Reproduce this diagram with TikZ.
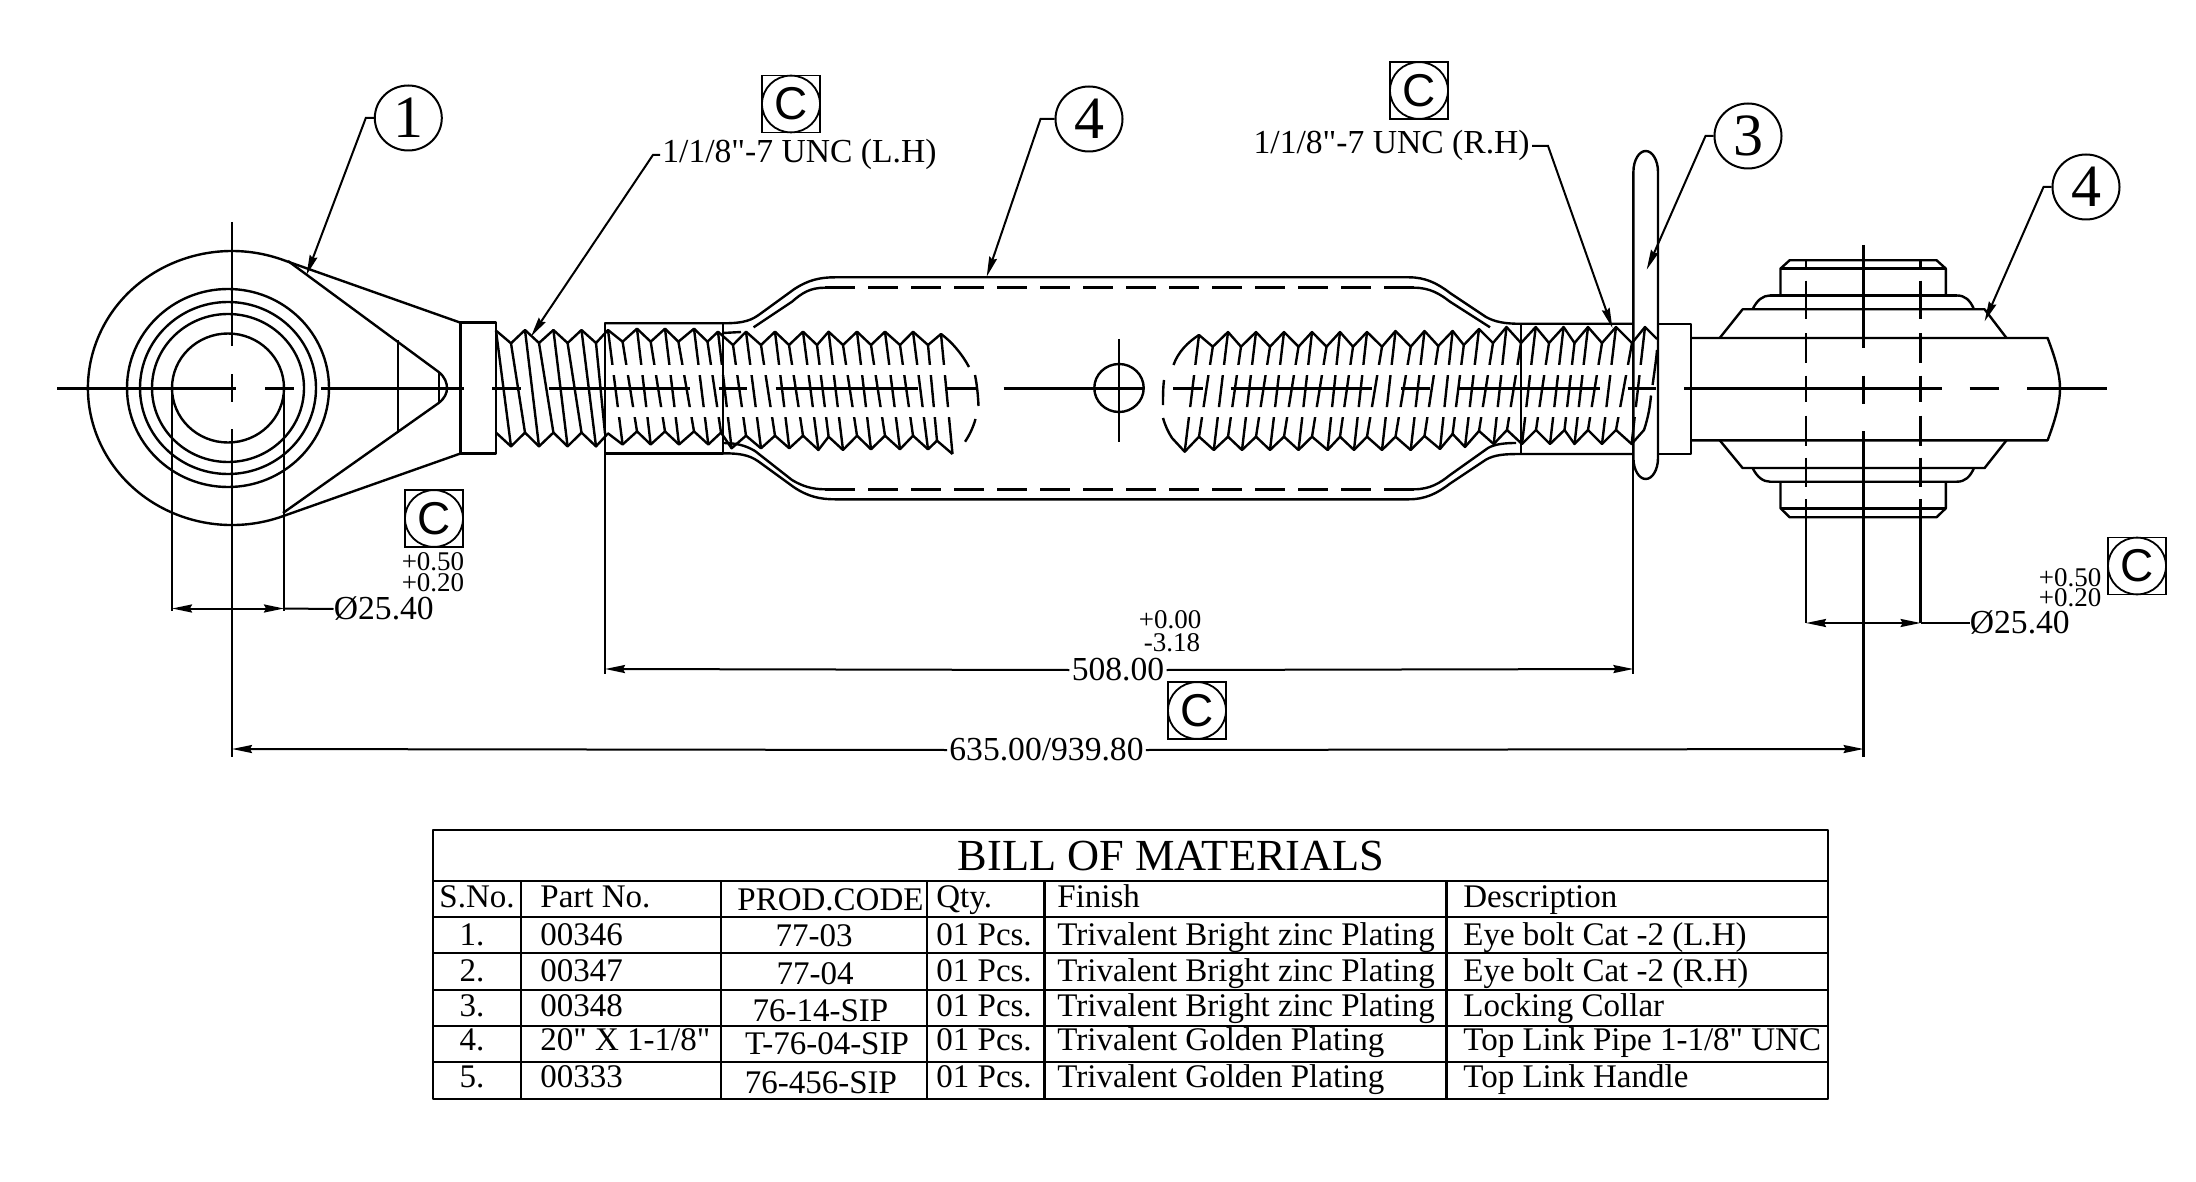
\documentclass[tikz,border=0pt]{standalone}
\usepackage{fontspec}
\setmainfont{Liberation Serif}[Ligatures=TeXOff]
\newfontfamily\csans{Liberation Sans}
\usetikzlibrary{arrows.meta,shapes.geometric}
\tikzset{
  thk/.style={line width=1.2pt,line join=round},
  thn/.style={line width=1pt,line join=miter},
  dimtip/.style={-{Stealth[length=10pt,width=4pt,inset=1pt]}},
  dimline/.style={thn,dimtip},
  balloon/.style={ellipse,draw,line width=1pt,inner sep=0pt,minimum width=33.5pt,minimum height=32.5pt,font=\fontsize{30}{30}\selectfont},
  label/.style={inner sep=1pt,font=\fontsize{16.8}{17}\selectfont},
  tol/.style={inner sep=0pt,font=\fontsize{13.5}{14}\selectfont},
  cbox/.style={draw,line width=.9pt,inner sep=0pt,minimum width=29pt,minimum height=28.5pt,font=\csans\fontsize{23}{23}\selectfont},
  cell/.style={anchor=base west,inner sep=0pt,font=\fontsize{16.5}{17}\selectfont},
  ccell/.style={anchor=base,inner sep=0pt,font=\fontsize{16.5}{17}\selectfont},
  hid/.style={thk,dash pattern=on 15pt off 6.5pt}
}
\newcommand{\cmark}[3]{%
  \node[cbox] (#1) at (#2,#3) {C};
  \draw[line width=.9pt] (#1.center) ellipse [x radius=14.5pt,y radius=14.2pt];}
\begin{document}
\begin{tikzpicture}[x=0.5pt,y=-0.5pt]
\fill[white] (0,0) rectangle (2196,1182);
\useasboundingbox (0,0) rectangle (2196,1182);

% ---- left eye bolt
\draw[thk] (460.5,322.7) -- (281.2,259.3) arc[start angle=-70,end angle=-290,x radius=144,y radius=137] -- (460.5,453.5);
\foreach \r/\s in {101/99,88/86,76/74,56/54.5}
  \draw[thk] (228,388) ellipse [x radius=\r,y radius=\s];
\draw[thk] (288,261) -- (438.7,372) .. controls (445,377) and (447,383) .. (447,388) .. controls (447,393) and (445,398) .. (438.7,403) -- (283,513);
\draw[thk] (398,340.5) -- (398,433.4);
\draw[thk] (438.7,372) -- (438.7,403);
\draw[thk] (460.5,322.7) rectangle (496,453.5);

% ---- left exposed thread
\draw[thk] (496,330.6) -- (511,343.3) -- (525,330) -- (539,343) -- (553.4,330) -- (567.6,343) -- (581.5,330) -- (596,343) -- (608,330) -- (622.6,341.7) -- (637,328.7) -- (650.7,341.7) -- (665,328.7) -- (678.4,341.7) -- (694,328.7) -- (707.5,341.7) -- (718,331.7) -- (733,345) -- (746,331.7) -- (761,345) -- (775,331.7) -- (789,345) -- (803,331.7) -- (817,345) -- (828.6,331.7) -- (843,345) -- (857,331.7) -- (871,345) -- (885,331.7) -- (900,345) -- (913,331.7) -- (928,345) -- (941,334) .. controls (952,342) and (962,354) .. (969,367);
\draw[thk] (496,432.6) -- (511,446.4) -- (525,432.6) -- (539,446.4) -- (553.4,432.6) -- (567.6,446.4) -- (581.5,432.6) -- (596,446.4) -- (608,433.4) -- (622.6,444.5) -- (637,431.4) -- (650.7,444.5) -- (665,431.4) -- (679,444.5) -- (694,431.4) -- (708.3,444.5) -- (721,432.6) -- (731.6,448.3) -- (746,435.7) -- (761,448.3) -- (775,435.7) -- (789.3,448.3) -- (803,435.7) -- (818.4,450) -- (828.6,436.7) -- (843,450) -- (857,435.7) -- (871,449.3) -- (885,435.7) -- (900,449.3) -- (913,435.7) -- (928,449.3) -- (937,440.7) -- (952.5,454);
\foreach \a/\b/\c/\d in {496/330.6/511/446.4,511/343.3/525/432.6,525/330/539/446.4,539/343/553.4/432.6,553.4/330/567.6/446.4,567.6/343/581.5/432.6,581.5/330/596/446.4,596/343/605/433.4}
  \draw[thk] (\a,\b) -- (\c,\d);
\begin{scope}
\clip (600,300) rectangle (1700,365) (600,375) rectangle (1700,407) (600,417) rectangle (1700,470);
\foreach \a/\b/\c/\d in {608/330/622.6/444.5,622.6/341.7/637/431.4,637/328.7/650.7/444.5,650.7/341.7/665/431.4,665/328.7/679/444.5,678.4/341.7/694/431.4,694/328.7/708.3/444.5,707.5/341.7/721/432.6,718/331.7/731.6/448.3,733/345/746/435.7,746/331.7/761/448.3,761/345/775/435.7,775/331.7/789.3/448.3,789/345/803/435.7,803/331.7/818.4/450,817/345/828.6/436.7,828.6/331.7/843/450,843/345/857/435.7,857/331.7/871/449.3,871/345/885/435.7,885/331.7/900/449.3,900/345/913/435.7,913/331.7/928/449.3,928/345/937/440.7,941/334/952.5/454}
  \draw[thk] (\a,\b) -- (\c,\d);
% right thread lines
\foreach \a/\b/\c/\d in {1199/335/1184.7/451.7,1212.8/346.7/1199/436.7,1228/332/1213.8/450,1241/346.7/1228/436.7,1256/332/1242/450,1270/346.7/1256/436.7,1284/332/1270/450,1298.5/346.7/1284/436.7,1312/332/1298.5/450,1326.5/346.7/1312/436.7,1340/332/1327.6/450,1353/346.7/1340/436.7,1367/332/1354/450,1382/346.7/1367/436.7,1395.5/331/1382/450,1410.7/346.7/1395.5/436.7,1424.5/331/1410.7/450,1438.3/346/1424.5/436,1452.6/331/1440/449,1463.8/345/1452.6/434,1479/329/1465/447,1493/343/1479/431,1506.5/327/1493.7/444,1521/343/1507/430,1535.7/327/1522/444,1549/343/1536/430,1563.6/327/1550/444,1574.5/343/1564.5/430,1588/327/1574.5/444,1602/343/1588/430,1616/327/1602/444,1632/343/1616/430,1645/327/1631.6/444}
  \draw[thk] (\a,\b) -- (\c,\d);
\end{scope}
% left thread end
\draw[thk] (975,375) .. controls (977,385) and (978,395) .. (978.5,406);
\draw[thk] (975.5,419) .. controls (973,428) and (969,436) .. (965,441.7);
% right thread outline
\draw[thk] (1173.5,365) .. controls (1178,352) and (1188,342) .. (1199,335) -- (1212.8,346.7) -- (1228,332) -- (1241,346.7) -- (1256,332) -- (1270,346.7) -- (1284,332) -- (1298.5,346.7) -- (1312,332) -- (1326.5,346.7) -- (1340,332) -- (1353,346.7) -- (1367,332) -- (1382,346.7) -- (1395.5,331) -- (1410.7,346.7) -- (1424.5,331) -- (1438.3,346) -- (1452.6,331) -- (1463.8,345) -- (1479,329) -- (1493,343) -- (1506.5,327) -- (1521,343) -- (1535.7,327) -- (1549,343) -- (1563.6,327) -- (1574.5,343) -- (1588,327) -- (1602,343) -- (1616,327) -- (1632,343) -- (1645,327) -- (1657,339);
\draw[thk] (1163,418) .. controls (1165,425) and (1168,432) .. (1172,438) -- (1184.7,451.7) -- (1199,436.7) -- (1213.8,450) -- (1228,436.7) -- (1242,450) -- (1256,436.7) -- (1270,450) -- (1284,436.7) -- (1298.5,450) -- (1312,436.7) -- (1327.6,450) -- (1340,436.7) -- (1354,450) -- (1367,436.7) -- (1382,450) -- (1395.5,436.7) -- (1410.7,450) -- (1424.5,436) -- (1440,449) -- (1452.6,434) -- (1465,447) -- (1479,431) -- (1493.7,444) -- (1507,430) -- (1522,444) -- (1536,430) -- (1550,444) -- (1564.5,430) -- (1574.5,444) -- (1588,430) -- (1602,444) -- (1616,430) -- (1631.6,444) -- (1644,430) .. controls (1648,418) and (1650,407) .. (1651,395.5);
\draw[thk] (1164,380) .. controls (1163,388) and (1163,396) .. (1163,405);
\draw[thk] (1657,350) .. controls (1656,362) and (1654,374) .. (1652.6,385);

% ---- pipe
\draw[thk] (605,323.3) rectangle (723,453.3);
\draw[thk] (605,323.3) -- (723,323.3) .. controls (745,323.3) and (752,320) .. (761,313.3) -- (794,289.3) .. controls (808,280) and (820,277.3) .. (835,277.3) -- (1409,277.3) .. controls (1425,277.3) and (1437,283) .. (1450,293) -- (1486,317) .. controls (1495,322) and (1505,323.8) .. (1521,323.8) -- (1633.4,323.8);
\draw[thk] (605,453.3) -- (723,453.3) .. controls (745,453.3) and (752,456.6) .. (761,463.3) -- (794,487.3) .. controls (808,496.6) and (820,499.3) .. (835,499.3) -- (1409,499.3) .. controls (1425,499.3) and (1437,493.6) .. (1450,483.6) -- (1486,459.6) .. controls (1495,454.6) and (1505,454) .. (1521,454) -- (1633.4,454);
\draw[thk] (1521,323.8) -- (1521,454);
% inner walls
\draw[thk] (723,333) -- (741,332);
\draw[thk] (753.6,327.3) -- (792,301.7) .. controls (802,293) and (810,287.7) .. (825,287.7);
\draw[hid] (825,287.7) -- (1414,287.7);
\draw[thk] (1414,287.7) .. controls (1430,287.7) and (1440,294) .. (1450,301.7) -- (1490,327.3);
\draw[thk] (723,443) .. controls (735,443) and (745,445) .. (755,451) -- (792,480) .. controls (802,486) and (812,489.3) .. (825,489.3);
\draw[hid] (825,489.3) -- (1414,489.3);
\draw[thk] (1414,489.3) .. controls (1430,489.3) and (1440,483) .. (1450,475) -- (1488,448) .. controls (1495,444) and (1505,443) .. (1516,443);
% tommy hole
\draw[thk] (1119,388) ellipse [x radius=24.7,y radius=24];
\draw[thk] (1119,339) -- (1119,441.7);

% ---- handle and right collar
\draw[thk] (1633.4,172) arc[start angle=180,end angle=360,x radius=12.3,y radius=21] -- (1658,458) arc[start angle=0,end angle=180,x radius=12.3,y radius=21] -- cycle;
\draw[thk] (1658,324) rectangle (1691,454);

% ---- right eye
\draw[thk] (1691,338) -- (2047.6,338) .. controls (2056,360) and (2060,375) .. (2060,388.6) .. controls (2060,402) and (2056,418) .. (2047.6,440.3) -- (1691,440.3);
\draw[thk] (1719.7,338) -- (1742.6,309.3) -- (1984.6,309.3) -- (2006.5,338);
\draw[thk] (1719.7,440.3) -- (1742.6,468) -- (1984.6,468) -- (2006.5,440.3);
\draw[thk] (1752.6,309.3) .. controls (1757,300) and (1763,295.5) .. (1770,295.5) -- (1780.5,295.5) -- (1780.5,268.6) -- (1789.6,260.3) -- (1936.6,260.3) -- (1945.8,268.6) -- (1945.8,295.5) -- (1957,295.5) .. controls (1965,295.5) and (1970,300) .. (1974,309.3);
\draw[thk] (1780.5,268.6) -- (1945.8,268.6);
\draw[thk] (1770,295.5) -- (1957,295.5);
\draw[thk] (1752.6,468) .. controls (1757,477) and (1763,481.7) .. (1770,481.7) -- (1957,481.7) .. controls (1965,481.7) and (1970,477) .. (1974,468);
\draw[thk] (1780.5,481.7) -- (1780.5,508.3) -- (1789.6,517.2) -- (1936.6,517.2) -- (1945.8,508.3) -- (1945.8,481.7);
\draw[thk] (1780.5,508.3) -- (1945.8,508.3);
\foreach \x in {1806,1920.6} {
  \foreach \a/\b in {260/270,280.7/318.6,333.4/362.8,375.5/402.4,415.5/445.5,457.6/487,499/623}
    \draw[thk] (\x,\a) -- (\x,\b);
}

% ---- centre lines
\foreach \a/\b in {57/236,265/294,321/464,492/521,549/690,719/747,775.5/918,946/975.5,1003.6/1144,1173/1202.5,1230.6/1372,1400.5/1429.6,1457.7/1600,1627.5/1656,1684/1942,1969.5/1999,2027/2106.5}
  \draw[thk] (\a,388.4) -- (\b,388.4);
\foreach \a/\b in {222/345.6,374/402,429.4/757}
  \draw[thk] (232,\a) -- (232,\b);
\foreach \a/\b in {244.8/348,375.5/404,431/757}
  \draw[thk] (1863.6,\a) -- (1863.6,\b);

% ---- balloons and leaders
\node[balloon] (b1) at (408.3,118) {1};
\node[balloon] (b4a) at (1089,119) {4};
\node[balloon] (b3) at (1748,136) {3};
\node[balloon] (b4b) at (2086,187) {4};
\coordinate (t1) at (306.5,275);
\coordinate (t4a) at (986.7,276.7);
\coordinate (t3) at (1646.7,269.7);
\coordinate (t4b) at (1984.6,321.4);
\draw[dimline] (b1.west) -- ++(-8,0) -- (t1);
\draw[dimline] (b4a.west) -- ++(-14,0) -- (t4a);
\draw[dimline] (b3.west) -- ++(-8,0) -- (t3);
\draw[dimline] (b4b.west) -- ++(-8,0) -- (t4b);

\node[label,anchor=base west] (thL) at (660,163) {1/1/8"-7 UNC (L.H)};
\node[label,anchor=base east] (thR) at (1532,154) {1/1/8"-7 UNC (R.H)};
\coordinate (tL) at (531,336.6);
\coordinate (tR) at (1612.4,328);
\draw[dimline] (thL.west) -- ++(-7,0) -- (tL);
\draw[dimline] (thR.east) -- ++(16,0) -- (tR);

\cmark{cL}{791}{104}
\cmark{cR}{1419}{90.5}
\cmark{cE}{434}{518.5}
\cmark{cH}{2137}{566}
\cmark{cD}{1197}{710.5}

% ---- dimensions
\node[tol] (pL1) at (433,562) {+0.50};
\node[tol] (pL2) at (433,582.5) {+0.20};
\node[tol] (pR1) at (2070,577.6) {+0.50};
\node[tol] (pR2) at (2070,598) {+0.20};
\node[tol] (p508a) at (1170,620) {+0.00};
\node[tol] (p508b) at (1172,643) {-3.18};

\coordinate (e1) at (172,388);  \coordinate (e1d) at (172,608.5);
\coordinate (e2) at (284,388);  \coordinate (e2d) at (284,608.5);
\draw[thk] (e1) -- ++(0,223);
\draw[thk] (e2) -- ++(0,223);
\node[label,anchor=west,inner sep=0pt] (dE) at (333.5,609) {Ø25.40};
\draw[thn,{Stealth[length=10pt,width=4pt,inset=1pt]}-{Stealth[length=10pt,width=4pt,inset=1pt]}] (e1d) -- (e2d);
\draw[thn] (e2d) -- (dE.west);

\coordinate (e3d) at (1806,623);  \coordinate (e4d) at (1920.6,623);
\node[label,anchor=west,inner sep=0pt] (dH) at (1969.5,623) {Ø25.40};
\draw[thn,{Stealth[length=10pt,width=4pt,inset=1pt]}-{Stealth[length=10pt,width=4pt,inset=1pt]}] (e3d) -- (e4d);
\draw[thn] (e4d) -- (dH.west);

\coordinate (e5) at (605,453);  \coordinate (e5d) at (605,669);
\coordinate (e6) at (1633.4,454); \coordinate (e6d) at (1633.4,669);
\draw[thn] (e5) -- ++(0,221);
\draw[thn] (e6) -- ++(0,220);
\node[label,inner sep=1pt] (d508) at (1118,670) {508.00};
\draw[dimline] (d508.west) -- (e5d);
\draw[dimline] (d508.east) -- (e6d);

\coordinate (e7d) at (232,749); \coordinate (e8d) at (1863.6,749);
\node[label,inner sep=1pt] (d635) at (1046.5,750) {635.00/939.80};
\draw[dimline] (d635.west) -- (e7d);
\draw[dimline] (d635.east) -- (e8d);

% ---- table
\draw[thk] (433,830) rectangle (1827.7,1099);
\foreach \y in {880.7,916.7,952.7,990,1025.7,1061.7}
  \draw[thk] (433,\y) -- (1827.7,\y);
\foreach \x in {521,721,927,1044.4,1446.6}
  \draw[thk] (\x,880.7) -- (\x,1099);
\node[anchor=base,inner sep=0pt,font=\fontsize{22.2}{23}\selectfont] (title) at (1171,870) {BILL OF MATERIALS};
\node[cell] (h1) at (439,907.7) {S.No.};
\node[cell] (h2) at (540,907.7) {Part No.};
\node[cell] (h3) at (737,910) {PROD.CODE};
\node[cell] (h4) at (936,907.7) {Qty.};
\node[cell] (h5) at (1057,907.7) {Finish};
\node[cell] (h6) at (1463,907.7) {Description};
\foreach \n/\y/\s/\p/\f/\d in {
 a/945/1./00346/{Trivalent Bright zinc Plating}/{Eye bolt Cat -2 (L.H)},
 b/981/2./00347/{Trivalent Bright zinc Plating}/{Eye bolt Cat -2 (R.H)},
 c/1016.7/3./00348/{Trivalent Bright zinc Plating}/{Locking Collar},
 d/1050.7/4./{20" X 1-1/8"}/{Trivalent Golden Plating}/{Top Link Pipe 1-1/8" UNC},
 e/1087.7/5./00333/{Trivalent Golden Plating}/{Top Link Handle}}
{
  \node[ccell] (s\n) at (472,\y) {\s};
  \node[cell] (p\n) at (540,\y) {\p};
  \node[cell] (q\n) at (936,\y) {01 Pcs.};
  \node[cell] (f\n) at (1057,\y) {\f};
  \node[cell] (d\n) at (1463,\y) {\d};
}
\node[ccell] (c1) at (814,946.7) {77-03};
\node[ccell] (c2) at (815,984) {77-04};
\node[ccell] (c3) at (820.5,1021) {76-14-SIP};
\node[ccell] (c4) at (827,1054) {T-76-04-SIP};
\node[ccell] (c5) at (821,1093) {76-456-SIP};
\end{tikzpicture}
\end{document}
